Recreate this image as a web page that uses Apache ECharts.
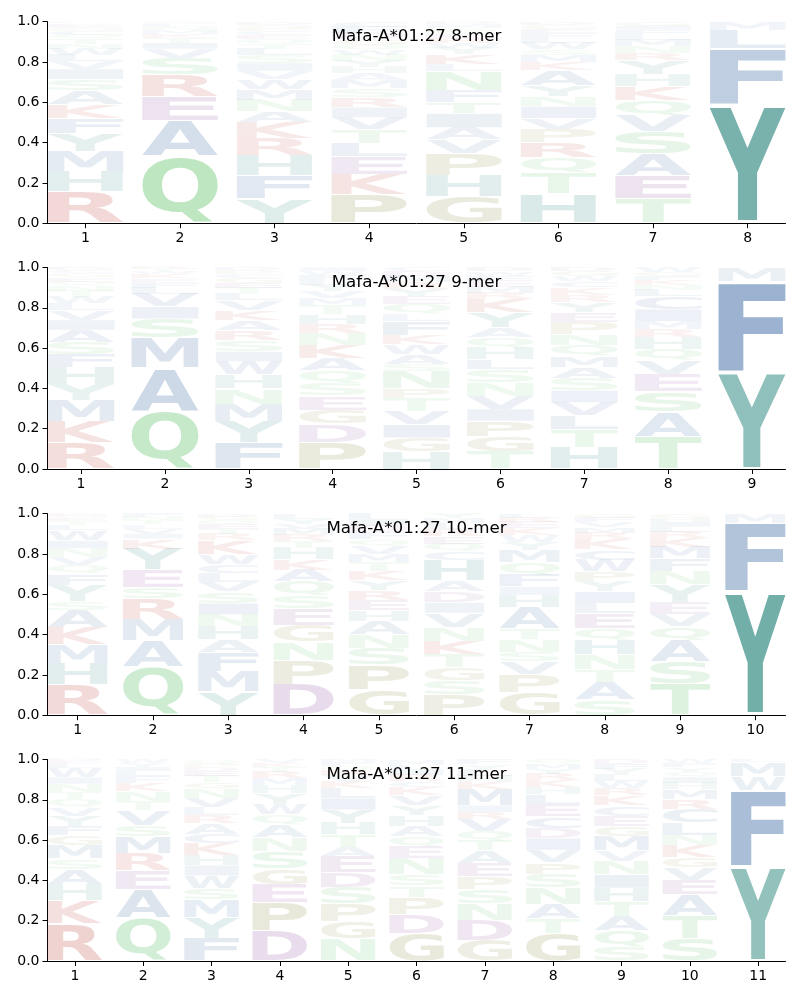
<!DOCTYPE html>
<html><head><meta charset="utf-8">
<script src="https://cdn.jsdelivr.net/npm/echarts@6/dist/echarts.min.js"></script>
<style>html,body{margin:0;padding:0;background:#fff}#c{width:800px;height:1000px}</style>
</head><body><div id="c"></div>
<script>
// ---------------- data ----------------
const titles = ["Mafa-A*01:27 8-mer", "Mafa-A*01:27 9-mer", "Mafa-A*01:27 10-mer", "Mafa-A*01:27 11-mer"];
const yTicks = [0, 0.2, 0.4, 0.6, 0.8, 1.0];

// each column: letters from bottom to top with their frequency
const logo8 = [
  [["R",.155],["H",.10],["M",.10],["Y",.09],["F",.075],["K",.07],["A",.07],["S",.055],["I",.05],["V",.04],["L",.03],["W",.03],["N",.025],["T",.025],["Q",.02],["C",.02],["G",.015],["E",.015],["D",.008],["P",.007]],
  [["Q",.335],["A",.175],["E",.12],["R",.105],["S",.085],["V",.045],["I",.03],["T",.025],["K",.02],["M",.02],["N",.015],["L",.015],["G",.01]],
  [["Y",.12],["F",.115],["H",.10],["R",.085],["K",.08],["A",.055],["N",.057],["M",.053],["W",.05],["V",.04],["I",.04],["S",.04],["L",.03],["T",.025],["Q",.025],["E",.02],["C",.02],["P",.015],["G",.015],["D",.015]],
  [["P",.14],["K",.10],["E",.09],["L",.065],["T",.07],["V",.06],["I",.05],["R",.05],["S",.045],["M",.04],["A",.035],["H",.03],["Y",.03],["N",.03],["W",.025],["Q",.025],["G",.03],["D",.03],["F",.03],["C",.025]],
  [["G",.13],["H",.105],["P",.11],["V",.07],["A",.06],["I",.07],["T",.055],["F",.06],["N",.095],["L",.035],["K",.05],["Y",.03],["W",.025],["R",.025],["E",.02],["S",.02],["Q",.015],["M",.015],["D",.01]],
  [["H",.145],["T",.105],["Q",.075],["R",.075],["P",.065],["V",.055],["I",.06],["N",.05],["Y",.055],["A",.075],["K",.04],["M",.035],["S",.03],["W",.03],["L",.025],["F",.025],["E",.02],["G",.02],["D",.015]],
  [["T",.12],["E",.115],["A",.11],["S",.11],["V",.08],["Q",.075],["K",.07],["H",.06],["Y",.07],["R",.035],["N",.035],["M",.03],["L",.025],["F",.025],["I",.02],["G",.02]],
  [["Y",.585],["F",.28],["L",.095],["M",.04]]
];
const logo9 = [
  [["R",.13],["K",.105],["M",.105],["Y",.08],["H",.085],["F",.065],["S",.06],["A",.06],["I",.05],["V",.05],["L",.035],["W",.03],["T",.03],["N",.025],["Q",.02],["E",.02],["G",.02],["C",.015],["D",.01],["P",.005]],
  [["Q",.29],["A",.21],["M",.15],["S",.095],["I",.06],["V",.065],["L",.03],["F",.025],["E",.02],["K",.02],["W",.015],["T",.01],["R",.01]],
  [["F",.13],["Y",.108],["M",.085],["N",.075],["H",.07],["W",.065],["I",.05],["S",.055],["R",.05],["A",.05],["K",.05],["V",.05],["L",.03],["T",.03],["E",.025],["G",.025],["C",.02],["P",.017],["D",.015]],
  [["P",.133],["D",.09],["G",.07],["E",.07],["S",.06],["Q",.065],["A",.06],["K",.065],["N",.06],["R",.045],["H",.05],["T",.045],["M",.035],["V",.035],["Y",.03],["L",.025],["F",.025],["W",.02],["I",.017]],
  [["H",.085],["G",.07],["I",.065],["V",.065],["T",.065],["P",.05],["N",.085],["S",.035],["A",.05],["W",.05],["K",.045],["F",.07],["L",.035],["Q",.05],["E",.04],["Y",.035],["R",.03],["M",.03],["D",.025],["C",.02]],
  [["T",.088],["G",.075],["P",.075],["I",.06],["V",.065],["N",.065],["S",.065],["L",.05],["H",.06],["Q",.05],["A",.05],["Y",.075],["K",.065],["R",.03],["M",.03],["E",.03],["F",.025],["W",.022],["D",.02]],
  [["H",.105],["T",.09],["L",.07],["V",.065],["I",.06],["S",.06],["A",.055],["M",.055],["Q",.055],["N",.055],["P",.06],["E",.05],["Y",.05],["R",.035],["K",.035],["C",.03],["W",.025],["G",.025],["D",.02]],
  [["T",.163],["A",.12],["S",.10],["E",.085],["V",.07],["Q",.058],["H",.057],["R",.04],["M",.04],["I",.06],["C",.065],["L",.03],["N",.025],["K",.025],["F",.02],["G",.017],["W",.025]],
  [["Y",.48],["F",.45],["M",.07]]
];
const logo10 = [
  [["R",.152],["H",.105],["M",.095],["K",.085],["A",.085],["S",.045],["Y",.08],["F",.055],["Q",.04],["V",.04],["N",.045],["I",.04],["W",.05],["L",.025],["T",.02],["E",.015],["G",.013],["D",.01]],
  [["Q",.243],["A",.127],["M",.107],["R",.10],["S",.057],["E",.087],["Y",.105],["K",.05],["I",.025],["V",.025],["L",.02],["T",.02],["N",.017],["F",.017]],
  [["Y",.117],["M",.098],["F",.097],["A",.063],["H",.067],["N",.057],["I",.057],["S",.057],["V",.047],["L",.045],["C",.045],["W",.047],["K",.07],["R",.03],["T",.025],["E",.025],["Q",.02],["G",.018],["D",.015]],
  [["D",.153],["P",.12],["N",.09],["G",.085],["E",.08],["S",.065],["Q",.07],["A",.058],["K",.052],["H",.057],["T",.035],["R",.03],["M",.03],["V",.025],["Y",.025],["L",.025]],
  [["G",.127],["P",.123],["S",.082],["N",.068],["A",.067],["H",.052],["E",.053],["R",.048],["Y",.05],["K",.045],["T",.045],["M",.04],["V",.04],["Q",.035],["F",.035],["D",.03],["I",.03],["L",.03]],
  [["P",.102],["S",.068],["G",.065],["T",.067],["K",.067],["N",.068],["V",.07],["I",.052],["D",.055],["A",.052],["H",.10],["C",.045],["Q",.04],["E",.035],["R",.035],["L",.03],["M",.025],["Y",.024]],
  [["G",.113],["P",.09],["V",.063],["S",.047],["N",.062],["T",.053],["A",.105],["H",.063],["I",.042],["F",.057],["Q",.063],["M",.063],["Y",.04],["W",.035],["K",.03],["E",.03],["R",.024],["L",.02]],
  [["S",.078],["A",.087],["T",.063],["N",.073],["H",.073],["Q",.057],["E",.073],["L",.052],["I",.057],["Y",.053],["P",.047],["W",.057],["C",.052],["K",.052],["R",.03],["M",.028],["V",.025],["F",.023],["G",.02]],
  [["T",.155],["S",.11],["A",.108],["Q",.067],["V",.063],["E",.057],["Y",.087],["N",.068],["F",.062],["M",.057],["K",.045],["R",.03],["L",.025],["I",.025],["H",.021],["G",.02]],
  [["Y",.612],["F",.343],["M",.045]]
];
const logo11 = [
  [["R",.184],["K",.118],["H",.08],["A",.073],["S",.052],["M",.068],["G",.047],["F",.047],["Y",.052],["V",.042],["Q",.042],["T",.032],["N",.042],["I",.032],["W",.045],["L",.02],["E",.014],["D",.01]],
  [["Q",.215],["A",.14],["E",.092],["R",.088],["M",.083],["S",.057],["V",.073],["T",.045],["N",.05],["K",.04],["F",.035],["L",.025],["I",.02],["Y",.02],["W",.017]],
  [["F",.113],["Y",.103],["M",.088],["S",.057],["W",.062],["I",.052],["H",.052],["K",.057],["C",.047],["A",.052],["R",.042],["L",.037],["V",.047],["N",.047],["G",.03],["T",.03],["E",.025],["D",.02],["P",.02],["Q",.019]],
  [["D",.148],["P",.14],["E",.093],["G",.078],["S",.087],["N",.067],["A",.062],["Q",.052],["W",.052],["Y",.052],["H",.04],["M",.035],["R",.03],["T",.025],["K",.02],["V",.019]],
  [["N",.108],["G",.088],["P",.088],["S",.083],["D",.073],["E",.078],["A",.047],["T",.062],["H",.057],["Y",.067],["I",.057],["L",.052],["K",.03],["V",.03],["R",.025],["Q",.02],["F",.02],["M",.015]],
  [["G",.138],["D",.095],["P",.085],["T",.057],["S",.057],["N",.078],["E",.057],["Q",.052],["A",.052],["H",.052],["Y",.05],["V",.05],["K",.04],["C",.03],["R",.03],["I",.025],["L",.025],["M",.027]],
  [["G",.103],["D",.098],["N",.083],["S",.072],["P",.062],["E",.067],["A",.062],["T",.052],["Q",.047],["V",.057],["R",.035],["I",.035],["M",.08],["K",.035],["H",.03],["L",.03],["Y",.027],["F",.025]],
  [["G",.138],["T",.072],["A",.072],["N",.083],["S",.067],["P",.057],["V",.062],["I",.057],["D",.052],["C",.057],["E",.062],["L",.05],["H",.035],["K",.035],["R",.03],["Y",.025],["M",.025],["Q",.021]],
  [["S",.068],["Q",.083],["A",.072],["T",.072],["H",.067],["I",.067],["N",.067],["V",.052],["M",.072],["G",.047],["E",.052],["C",.052],["K",.05],["R",.035],["W",.035],["L",.03],["Y",.03],["F",.025],["D",.024]],
  [["S",.113],["T",.113],["A",.103],["E",.072],["V",.062],["G",.052],["K",.057],["N",.052],["L",.062],["C",.067],["R",.05],["M",.05],["H",.03],["I",.03],["Q",.025],["Y",.022],["F",.02],["W",.02]],
  [["Y",.467],["F",.378],["W",.07],["M",.07],["L",.015]]
];
const logos = [logo8, logo9, logo10, logo11];

// ---------------- styling ----------------
const GROUP = {A:'blue',C:'blue',F:'blue',I:'blue',L:'blue',M:'blue',V:'blue',W:'blue',
  Y:'teal',H:'teal',Q:'green',S:'green',T:'green',N:'green',R:'red',K:'red',D:'purple',E:'purple',P:'olive',G:'olive'};
const BASE = {blue:[64,111,165], teal:[56,141,133], green:[90,192,100], red:[188,65,55], purple:[140,75,156], olive:[136,136,61]};
function fillFor(ch, p) {
  const c = BASE[GROUP[ch]];
  const a = Math.min(1, 0.03 + 1.1 * p);
  return 'rgba(' + c[0] + ',' + c[1] + ',' + c[2] + ',' + a.toFixed(3) + ')';
}
const LETTERS = "ACDEFGHIKLMNPQRSTVWY";
const FONT = 'bold 200px "DejaVu Sans"';
const mctx = document.createElement('canvas').getContext('2d');
mctx.font = FONT; mctx.textBaseline = 'middle'; mctx.textAlign = 'left';
const mcache = {};
function metrics(ch) {
  if (!mcache[ch]) {
    const m = mctx.measureText(ch);
    mcache[ch] = {L: m.actualBoundingBoxLeft, R: m.actualBoundingBoxRight, A: m.actualBoundingBoxAscent, D: m.actualBoundingBoxDescent};
  }
  return mcache[ch];
}
const LETTER_W = 0.8, VPAD = 0.025;

function buildItems(cols) {
  const items = [];
  cols.forEach((col, i) => {
    const total = col.reduce((s, e) => s + e[1], 0);
    let y = 0;
    col.forEach(([ch, p]) => {
      const q = p / total;
      items.push([i + 1, y, y + q, LETTERS.indexOf(ch), q]);
      y += q;
    });
  });
  return items;
}
function renderItem(params, api) {
  const pos = api.value(0), y0 = api.value(1), y1 = api.value(2);
  const ch = LETTERS[api.value(3)], p = api.value(4);
  const h = y1 - y0;
  const tl = api.coord([pos - LETTER_W / 2, y1 - h * VPAD]);
  const br = api.coord([pos + LETTER_W / 2, y0 + h * VPAD]);
  const bw = br[0] - tl[0], bh = br[1] - tl[1];
  if (bh < 0.2) return null;
  const m = metrics(ch);
  const sx = bw / (m.L + m.R), sy = bh / (m.A + m.D);
  return {
    type: 'text', silent: true,
    x: tl[0] + sx * m.L, y: tl[1] + sy * m.A, scaleX: sx, scaleY: sy,
    style: {text: ch, x: 0, y: 0, font: FONT, fill: fillFor(ch, p), align: 'left', verticalAlign: 'middle'}
  };
}

// ---------------- layout ----------------
const GRID_LEFT = 47.5, GRID_W = 738, GRID_H = 201.5;
const tops = [21.7, 267.5, 513.7, 759.5];
const labelFont = {color: '#000', fontSize: 14, fontFamily: 'DejaVu Sans'};

const grid = [], xAxis = [], yAxis = [], series = [], graphic = [];
logos.forEach((cols, k) => {
  const n = cols.length;
  const ticks = cols.map((c, i) => i + 1);
  grid.push({left: GRID_LEFT, top: tops[k], width: GRID_W, height: GRID_H});
  xAxis.push({type: 'value', gridIndex: k, min: 0.6, max: n + 0.4,
    axisLine: {show: true, onZero: false, lineStyle: {color: '#000', width: 1}},
    axisTick: {show: true, customValues: ticks, length: 5, lineStyle: {color: '#000', width: 1}},
    axisLabel: Object.assign({customValues: ticks, margin: 8}, labelFont),
    splitLine: {show: false}});
  yAxis.push({type: 'value', gridIndex: k, min: 0, max: 1, interval: 0.2,
    axisLine: {show: true, lineStyle: {color: '#000', width: 1}},
    axisTick: {show: true, length: 5, lineStyle: {color: '#000', width: 1}},
    axisLabel: Object.assign({margin: 8, formatter: v => v.toFixed(1)}, labelFont),
    splitLine: {show: false}});
  series.push({type: 'custom', xAxisIndex: k, yAxisIndex: k, clip: false,
    renderItem: renderItem, data: buildItems(cols), encode: {x: 0, y: [1, 2]}, animation: false});
  graphic.push({type: 'text', x: GRID_LEFT + GRID_W / 2, y: tops[k] + 15, z: 100,
    style: {text: titles[k], font: '16.7px "DejaVu Sans"', fill: '#000', align: 'center', verticalAlign: 'middle'}});
});

const chart = echarts.init(document.getElementById('c'), null, {renderer: 'canvas'});
chart.setOption({animation: false, backgroundColor: '#fff', grid, xAxis, yAxis, series, graphic});
</script>
</body></html>
